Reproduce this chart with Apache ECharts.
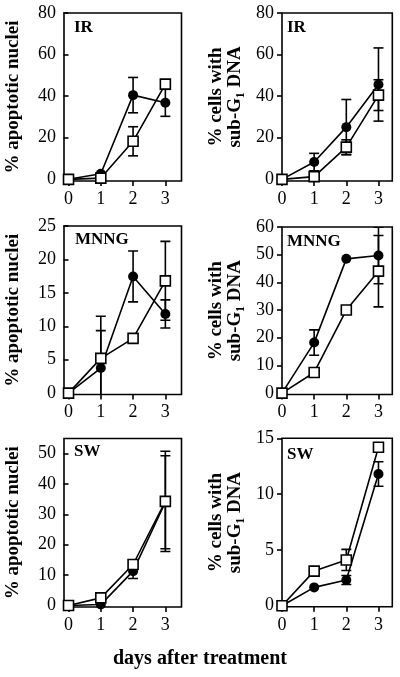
<!DOCTYPE html>
<html>
<head>
<meta charset="utf-8">
<script src="https://cdn.jsdelivr.net/npm/echarts@6/dist/echarts.min.js"></script>
<style>html,body{margin:0;padding:0;background:#fff;}#c{width:400px;height:677px;}</style>
</head>
<body>
<div id="c"></div>
<script>
// ---- data ----
const days = [0, 1, 2, 3];

// IR – % apoptotic nuclei
const irNucleiFilled = [0, 2.7, 40.5, 36.8];
const irNucleiFilledErr = [0, 0, 8.5, 6.5];
const irNucleiOpen = [0, 0.6, 18.3, 45.8];
const irNucleiOpenErr = [0, 0, 7, 0];
// IR – % cells with sub-G1 DNA
const irSubG1Filled = [0, 8.3, 25.1, 45.6];
const irSubG1FilledErr = [0, 4.2, 13.3, 17.6];
const irSubG1Open = [0, 1.3, 15.5, 40.5];
const irSubG1OpenErr = [0, 0, 3.5, 7.4];
// MNNG – % apoptotic nuclei
const mnngNucleiFilled = [0, 3.75, 17.45, 11.85];
const mnngNucleiFilledErr = [0, 5.6, 3.8, 2.1];
const mnngNucleiOpen = [0, 5.2, 8.2, 16.8];
const mnngNucleiOpenErr = [0, 6.3, 0, 5.9];
// MNNG – % cells with sub-G1 DNA
const mnngSubG1Filled = [0, 18.25, 48.5, 49.7];
const mnngSubG1FilledErr = [0, 4.6, 0, 10.2];
const mnngSubG1Open = [0, 7.45, 30, 44.05];
const mnngSubG1OpenErr = [0, 0, 0, 12.9];
// SW – % apoptotic nuclei
const swNucleiFilled = [0, 0.3, 11.3, 34.0];
const swNucleiFilledErr = [0, 0, 2.4, 15.3];
const swNucleiOpen = [0, 2.5, 13.5, 34.3];
const swNucleiOpenErr = [0, 0, 1.5, 16.5];
// SW – % cells with sub-G1 DNA
const swSubG1Filled = [0, 1.64, 2.3, 11.8];
const swSubG1FilledErr = [0, 0, 0.4, 1.1];
const swSubG1Open = [0, 3.1, 4.1, 14.2];
const swSubG1OpenErr = [0, 0, 0.95, 0];

// tick labels
const xTicks = [0, 1, 2, 3];
const yTicksIR = [0, 20, 40, 60, 80];
const yTicksMnngNuclei = [0, 5, 10, 15, 20, 25];
const yTicksMnngSubG1 = [0, 10, 20, 30, 40, 50, 60];
const yTicksSwNuclei = [0, 10, 20, 30, 40, 50];
const yTicksSwSubG1 = [0, 5, 10, 15];

// texts
const panelLabels = ['IR', 'IR', 'MNNG', 'MNNG', 'SW', 'SW'];
const yNameLeft = '% apoptotic nuclei';
const yNameRight = '% cells with\nsub-G\u2081 DNA';
const xName = 'days after treatment';

// ---- layout ----
const panels = [
  {grid:{left:64, top:13, width:117.5, height:168}, x:[-0.14,3.5], y:[-0.8,80], ticks:yTicksIR, f:irNucleiFilled, fe:irNucleiFilledErr, o:irNucleiOpen, oe:irNucleiOpenErr, name:yNameLeft, gap:41, lab:[74,19]},
  {grid:{left:282, top:13, width:110.3, height:168}, x:[0,3.43], y:[-0.8,80], ticks:yTicksIR, f:irSubG1Filled, fe:irSubG1FilledErr, o:irSubG1Open, oe:irSubG1OpenErr, name:yNameRight, gap:37, lab:[287,19]},
  {grid:{left:64, top:226, width:117.5, height:168.5}, x:[-0.14,3.5], y:[-0.2,25], ticks:yTicksMnngNuclei, f:mnngNucleiFilled, fe:mnngNucleiFilledErr, o:mnngNucleiOpen, oe:mnngNucleiOpenErr, name:yNameLeft, gap:41, lab:[75,231]},
  {grid:{left:282, top:227, width:110.3, height:167.5}, x:[0,3.43], y:[-0.5,60], ticks:yTicksMnngSubG1, f:mnngSubG1Filled, fe:mnngSubG1FilledErr, o:mnngSubG1Open, oe:mnngSubG1OpenErr, name:yNameRight, gap:37, lab:[287,233]},
  {grid:{left:64, top:438.5, width:117.5, height:168.5}, x:[-0.14,3.5], y:[-0.5,55], ticks:yTicksSwNuclei, f:swNucleiFilled, fe:swNucleiFilledErr, o:swNucleiOpen, oe:swNucleiOpenErr, name:yNameLeft, gap:41, lab:[74,443]},
  {grid:{left:282, top:438.3, width:110.3, height:168.5}, x:[0,3.43], y:[-0.1,15], ticks:yTicksSwSubG1, f:swSubG1Filled, fe:swSubG1FilledErr, o:swSubG1Open, oe:swSubG1OpenErr, name:yNameRight, gap:37, lab:[287,446]}
];

const SERIF = '"Liberation Serif", "Times New Roman", serif';
const LW = 1.6;

function errRender(params, api) {
  const x = api.value(0), lo = api.value(1), hi = api.value(2);
  if (hi - lo <= 0) return null;
  const a = api.coord([x, lo]), b = api.coord([x, hi]);
  const hw = 5;
  const st = {stroke:'#000', lineWidth:LW, fill:null};
  return {type:'group', children:[
    {type:'line', shape:{x1:a[0], y1:a[1], x2:b[0], y2:b[1]}, style:st},
    {type:'line', shape:{x1:b[0]-hw, y1:b[1], x2:b[0]+hw, y2:b[1]}, style:st},
    {type:'line', shape:{x1:a[0]-hw, y1:a[1], x2:a[0]+hw, y2:a[1]}, style:st}
  ]};
}

const grid = [], xAxis = [], yAxis = [], series = [], title = [];
panels.forEach((p, i) => {
  grid.push(Object.assign({show:true, borderColor:'#000', borderWidth:LW, backgroundColor:'transparent'}, p.grid));
  xAxis.push({
    type:'value', gridIndex:i, min:p.x[0], max:p.x[1],
    axisLine:{show:false, onZero:false},
    splitLine:{show:false},
    axisTick:{show:true, length:5, lineStyle:{color:'#000', width:LW}, customValues:xTicks},
    axisLabel:{color:'#000', fontFamily:SERIF, fontSize:18, margin:9, customValues:xTicks}
  });
  yAxis.push({
    type:'value', gridIndex:i, min:p.y[0], max:p.y[1],
    axisLine:{show:false},
    splitLine:{show:false},
    axisTick:{show:true, length:5, lineStyle:{color:'#000', width:LW}, customValues:p.ticks},
    axisLabel:{color:'#000', fontFamily:SERIF, fontSize:18, margin:8, customValues:p.ticks},
    name:p.name, nameLocation:'middle', nameRotate:90, nameGap:p.gap,
    nameTextStyle:{color:'#000', fontFamily:SERIF, fontSize:19, fontWeight:'bold', lineHeight:19}
  });
  const errData = [];
  days.forEach((d, k) => {
    if (p.fe[k] > 0) errData.push([d, p.f[k]-p.fe[k], p.f[k]+p.fe[k]]);
    if (p.oe[k] > 0) errData.push([d, p.o[k]-p.oe[k], p.o[k]+p.oe[k]]);
  });
  series.push({type:'custom', xAxisIndex:i, yAxisIndex:i, renderItem:errRender, data:errData, encode:{x:0, y:[1,2]}, clip:true, silent:true, z:1});
  series.push({type:'line', xAxisIndex:i, yAxisIndex:i, data:days.map((d,k)=>[d,p.f[k]]),
    symbol:'circle', symbolSize:10, showAllSymbol:true, lineStyle:{color:'#000', width:LW},
    itemStyle:{color:'#000', borderColor:'#000', borderWidth:0}, z:2, animation:false});
  series.push({type:'line', xAxisIndex:i, yAxisIndex:i, data:days.map((d,k)=>[d,p.o[k]]),
    symbol:'rect', symbolSize:10, showAllSymbol:true, lineStyle:{color:'#000', width:LW},
    itemStyle:{color:'#fff', borderColor:'#000', borderWidth:LW}, z:3, animation:false});
  title.push({text:panelLabels[i], left:p.lab[0], top:p.lab[1], padding:0,
    textStyle:{color:'#000', fontFamily:SERIF, fontSize:17, fontWeight:'bold'}});
});
title.push({text:xName, left:'center', top:649, padding:0,
  textStyle:{color:'#000', fontFamily:SERIF, fontSize:20, fontWeight:'bold'}});

const chart = echarts.init(document.getElementById('c'), null, {renderer:'canvas'});
chart.setOption({animation:false, backgroundColor:'#fff', title, grid, xAxis, yAxis, series});
</script>
</body>
</html>
